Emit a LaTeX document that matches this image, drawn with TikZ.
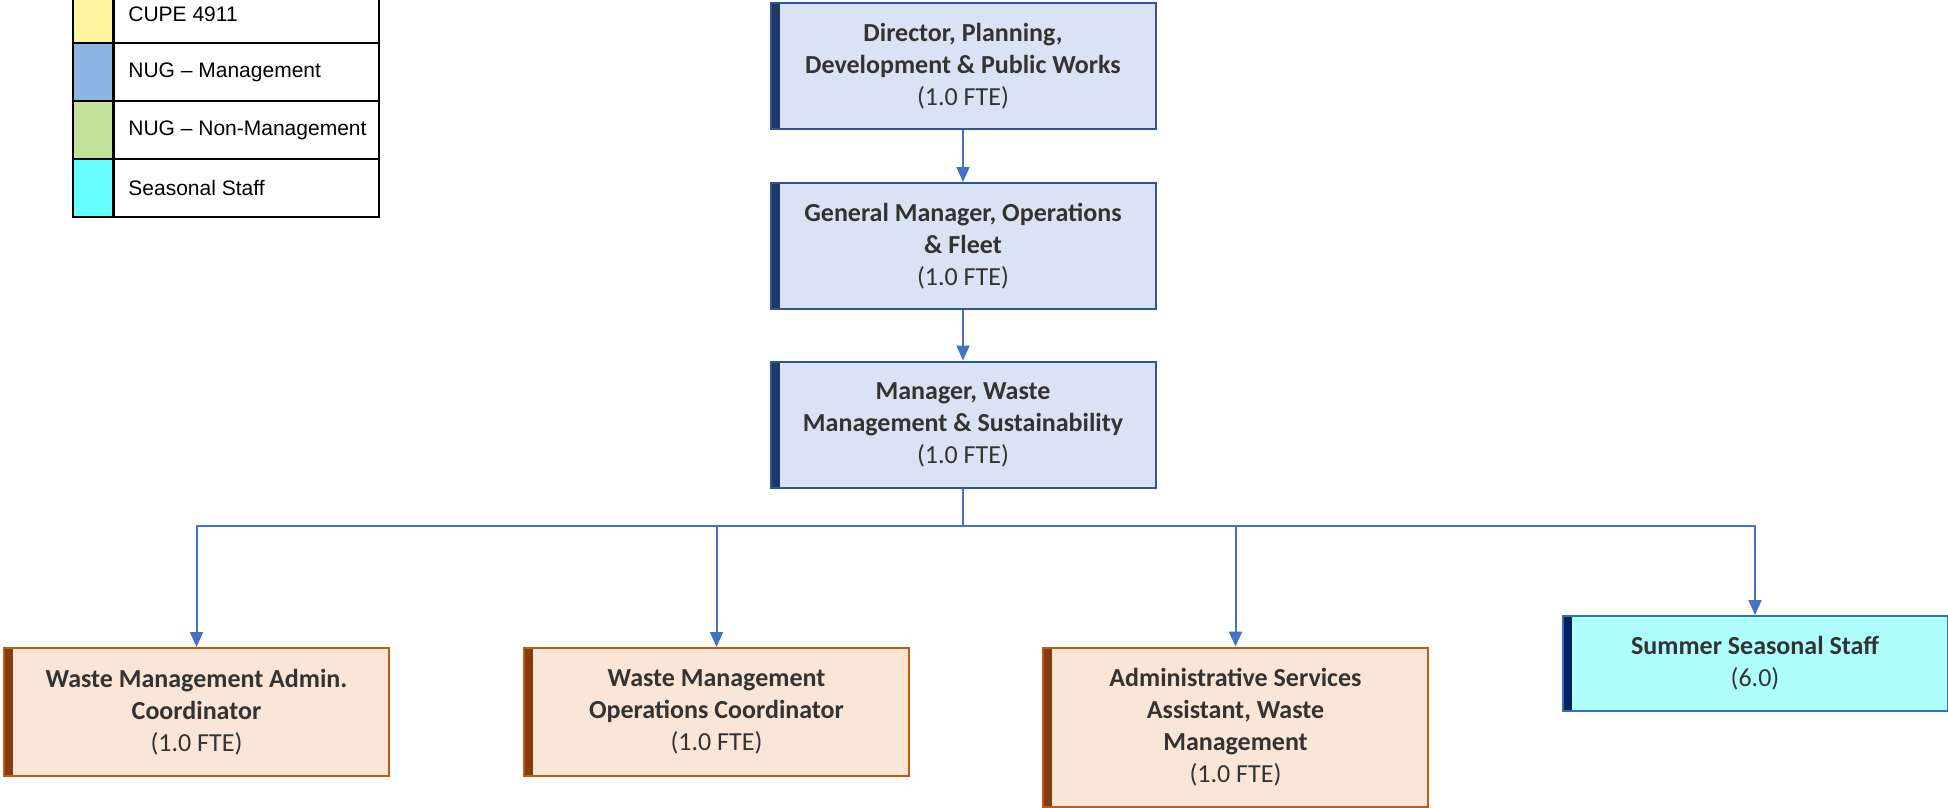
\documentclass[tikz,border=0pt]{standalone}
\usepackage{fontspec}
\setmainfont{Carlito}
\newfontfamily\legfont{Liberation Sans}
\usetikzlibrary{arrows.meta,calc}
\definecolor{mgrfill}{HTML}{DAE3F3}
\definecolor{mgrdraw}{HTML}{2F5597}
\definecolor{mgrbar}{HTML}{1F3864}
\definecolor{orgfill}{HTML}{FBE5D6}
\definecolor{orgdraw}{HTML}{C55A11}
\definecolor{orgbar}{HTML}{843C0C}
\definecolor{seafill}{HTML}{AFFFFF}
\definecolor{seadraw}{HTML}{2E75B6}
\definecolor{seabar}{HTML}{002060}
\definecolor{conncol}{HTML}{4472C4}
\definecolor{txtcol}{HTML}{333333}
\definecolor{legyel}{HTML}{FFF5A0}
\definecolor{legblue}{HTML}{8EB4E3}
\definecolor{leggreen}{HTML}{C3E09A}
\definecolor{legcyan}{HTML}{66FFFF}
\tikzset{
  orgbox/.style n args={3}{rectangle, draw=#2, fill=#1, line width=1pt,
    inner sep=0pt, align=center, text=txtcol,
    font=\fontsize{13}{16}\selectfont,
    path picture={\fill[#3] (path picture bounding box.south west) rectangle ([xshift=4.5pt]path picture bounding box.north west);}},
  mgr/.style={orgbox={mgrfill}{mgrdraw}{mgrbar}, minimum width=192.5pt},
  staff/.style={orgbox={orgfill}{orgdraw}{orgbar}, minimum width=192.5pt},
  seas/.style={orgbox={seafill}{seadraw}{seabar}, minimum width=192.5pt},
  conn/.style={draw=conncol, line width=1pt},
  arr/.style={conn, -{Triangle[width=6.5pt,length=7.5pt]}},
  swatch/.style={rectangle, draw=black, line width=1pt, minimum width=20pt, minimum height=29pt, inner sep=0pt},
  legcell/.style={rectangle, draw=black, line width=1pt, minimum width=132.5pt, minimum height=29pt, inner sep=0pt, anchor=west},
  legtext/.style={anchor=west, inner sep=0pt, font=\legfont\fontsize{10.5}{12}\selectfont, text=black}
}
\begin{document}
\begin{tikzpicture}[x=0.5pt,y=-0.5pt]
\useasboundingbox (0,0) rectangle (1948,808);
% legend
\begin{scope}
\clip (0,0) rectangle (1948,808);
\node[swatch, fill=legyel] (s1) at (93,14) {};
\node[swatch, fill=legblue] (s2) at (93,72) {};
\node[swatch, fill=leggreen] (s3) at (93,130) {};
\node[swatch, fill=legcyan] (s4) at (93,188) {};
\node[legcell] (l1) at (113,14) {};
\node[legcell] (l2) at (113,72) {};
\node[legcell] (l3) at (113,130) {};
\node[legcell] (l4) at (113,188) {};
\node[legtext] (t1) at ([xshift=7.5pt]l1.west) {CUPE 4911};
\node[legtext] (t2) at ([xshift=7.5pt]l2.west) {NUG – Management};
\node[legtext] (t3) at ([xshift=7.5pt]l3.west) {NUG – Non-Management};
\node[legtext] (t4) at ([xshift=7.5pt]l4.west) {Seasonal Staff};
\end{scope}
% managers
\node[mgr, minimum height=63pt] (m1) at (963,66.5) {\textbf{Director, Planning,}\\\textbf{Development \& Public Works}\\(1.0 FTE)};
\node[mgr, minimum height=63pt] (m2) at (963,246) {\textbf{General Manager, Operations}\\\textbf{\& Fleet}\\(1.0 FTE)};
\node[mgr, minimum height=63pt] (m3) at (963,424.5) {\textbf{Manager, Waste}\\\textbf{Management \& Sustainability}\\(1.0 FTE)};
% staff
\node[staff, minimum height=64pt] (a) at (196.5,712) {\textbf{Waste Management Admin.}\\\textbf{Coordinator}\\(1.0 FTE)};
\node[staff, minimum height=64pt] (b) at (716.5,712) {\textbf{Waste Management}\\\textbf{Operations Coordinator}\\(1.0 FTE)};
\node[staff, minimum height=79.5pt] (c) at (1235.5,727) {\textbf{Administrative Services}\\\textbf{Assistant, Waste}\\\textbf{Management}\\(1.0 FTE)};
\node[seas, minimum height=47.5pt] (d) at (1755,663.5) {\textbf{Summer Seasonal Staff}\\(6.0)};
% connectors
\coordinate (bus) at (963,526);
\draw[arr] (m1) -- (m2);
\draw[arr] (m2) -- (m3);
\draw[conn] (m3.south) -- (bus);
\draw[arr] (bus) -| (a.north);
\draw[arr] (bus) -| (b.north);
\draw[arr] (bus) -| (c.north);
\draw[arr] (bus) -| (d.north);
\end{tikzpicture}
\end{document}
